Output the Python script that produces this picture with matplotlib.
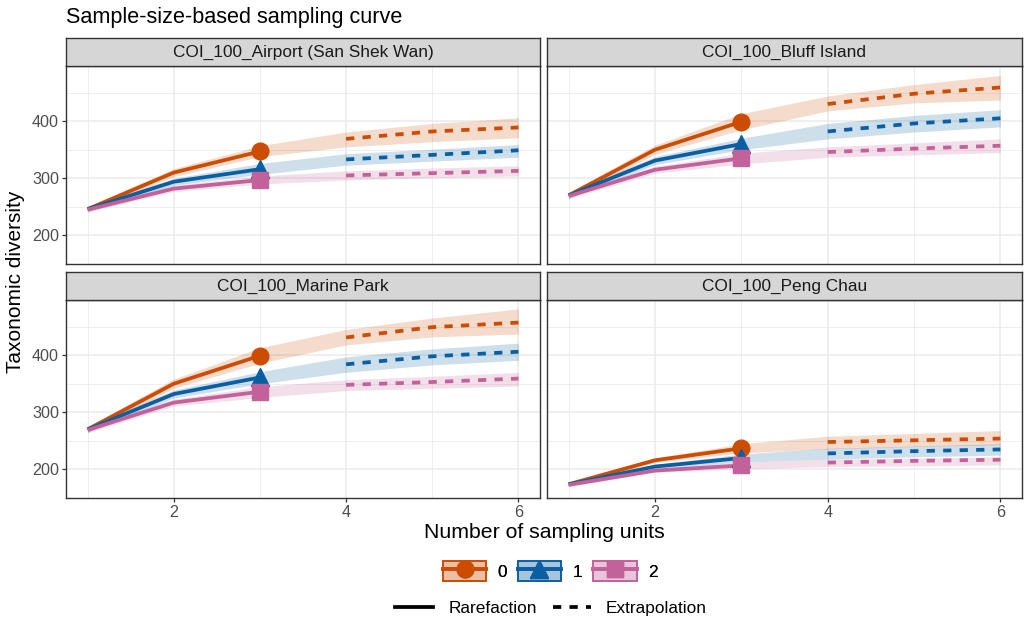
import matplotlib
matplotlib.use("Agg")
import matplotlib.pyplot as plt
from matplotlib.lines import Line2D
from matplotlib.patches import Patch
from matplotlib.legend_handler import HandlerTuple
import numpy as np

plt.rcParams['font.family'] = ['Liberation Sans', 'DejaVu Sans']

# ---------------- data ----------------
sites = ["COI_100_Airport (San Shek Wan)", "COI_100_Bluff Island",
         "COI_100_Marine Park", "COI_100_Peng Chau"]
orders = ["0", "1", "2"]
m = [1, 2, 3, 4, 5, 6]
observed_m = 3

airport_q0 = [246, 310, 347, 369, 382, 389]
airport_q0_lo = [242, 303, 338, 355, 364, 371]
airport_q0_hi = [250, 317, 357, 381, 396, 406]
airport_q1 = [246, 294, 316, 333, 341, 349]
airport_q1_lo = [242, 288, 307, 323, 330, 337]
airport_q1_hi = [250, 300, 326, 343, 351, 359]
airport_q2 = [245, 282, 297, 305, 309, 313]
airport_q2_lo = [241, 277, 290, 297, 301, 304]
airport_q2_hi = [249, 288, 304, 313, 318, 322]

bluff_q0 = [270, 350, 399, 430, 448, 459]
bluff_q0_lo = [265, 342, 385, 418, 432, 437]
bluff_q0_hi = [275, 358, 413, 444, 464, 480]
bluff_q1 = [270, 331, 360, 382, 396, 405]
bluff_q1_lo = [265, 324, 350, 369, 381, 390]
bluff_q1_hi = [275, 338, 370, 396, 410, 420]
bluff_q2 = [269, 315, 335, 346, 352, 357]
bluff_q2_lo = [264, 309, 325, 337, 341, 345]
bluff_q2_hi = [274, 321, 344, 355, 362, 369]

marine_q0 = [270, 350, 399, 431, 449, 457]
marine_q0_lo = [265, 342, 386, 418, 432, 437]
marine_q0_hi = [275, 358, 413, 445, 465, 481]
marine_q1 = [270, 332, 361, 384, 398, 406]
marine_q1_lo = [265, 325, 350, 370, 383, 391]
marine_q1_hi = [275, 339, 371, 397, 411, 421]
marine_q2 = [269, 317, 336, 348, 353, 359]
marine_q2_lo = [264, 311, 326, 338, 342, 346]
marine_q2_hi = [274, 323, 345, 357, 363, 370]

peng_q0 = [174, 216, 237, 248, 251, 254]
peng_q0_lo = [171, 212, 229, 236, 240, 243]
peng_q0_hi = [177, 220, 245, 258, 263, 268]
peng_q1 = [174, 205, 220, 228, 232, 235]
peng_q1_lo = [171, 201, 213, 218, 222, 225]
peng_q1_hi = [177, 209, 227, 237, 241, 245]
peng_q2 = [173, 198, 207, 212, 215, 217]
peng_q2_lo = [170, 195, 201, 205, 206, 208]
peng_q2_hi = [176, 201, 213, 218, 220, 222]

data = {
    sites[0]: [(airport_q0, airport_q0_lo, airport_q0_hi),
               (airport_q1, airport_q1_lo, airport_q1_hi),
               (airport_q2, airport_q2_lo, airport_q2_hi)],
    sites[1]: [(bluff_q0, bluff_q0_lo, bluff_q0_hi),
               (bluff_q1, bluff_q1_lo, bluff_q1_hi),
               (bluff_q2, bluff_q2_lo, bluff_q2_hi)],
    sites[2]: [(marine_q0, marine_q0_lo, marine_q0_hi),
               (marine_q1, marine_q1_lo, marine_q1_hi),
               (marine_q2, marine_q2_lo, marine_q2_hi)],
    sites[3]: [(peng_q0, peng_q0_lo, peng_q0_hi),
               (peng_q1, peng_q1_lo, peng_q1_hi),
               (peng_q2, peng_q2_lo, peng_q2_hi)],
}

colors = ["#CC4C02", "#0A5FA3", "#C2619A"]
markers = ["o", "^", "s"]
msizes = [12, 13, 11]

# ---------------- layout ----------------
W, H = 1029, 627
fig = plt.figure(figsize=(W / 100, H / 100), dpi=100)

def fx(px):
    return px / W

def fy(py):
    return 1 - py / H

cols = [(66, 540), (547, 1022)]
rows = [(66, 264), (300, 498)]
strip_h = 28

allv = []
for s in sites:
    for (v, lo, hi) in data[s]:
        allv += lo + hi
ymin, ymax = min(allv), max(allv)
yr = ymax - ymin
ylim = (ymin - 0.05 * yr, ymax + 0.05 * yr)
xlim = (m[0] - 0.05 * (m[-1] - m[0]), m[-1] + 0.05 * (m[-1] - m[0]))

grid_c = "#EBEBEB"
border_c = "#333333"
lw_main = 2.7
dash = (2.2, 2.2)

for i, s in enumerate(sites):
    r, c = divmod(i, 2)
    x0, x1 = cols[c]
    y0, y1 = rows[r]
    ax = fig.add_axes([fx(x0), fy(y1), fx(x1) - fx(x0), (y1 - y0) / H])
    ax.set_xlim(*xlim)
    ax.set_ylim(*ylim)
    ax.set_xticks([2, 4, 6])
    ax.set_xticks([1, 3, 5], minor=True)
    ax.set_yticks([200, 300, 400])
    ax.set_yticks([150, 250, 350, 450], minor=True)
    ax.grid(True, which='major', color=grid_c, lw=1.1, zorder=0)
    ax.grid(True, which='minor', color=grid_c, lw=0.6, zorder=0)
    ax.set_axisbelow(True)
    for sp in ax.spines.values():
        sp.set_color(border_c)
        sp.set_linewidth(1.0)
    ax.tick_params(which='minor', length=0)
    ax.tick_params(which='major', length=3, width=0.9, color=border_c,
                   labelsize=11.6, labelcolor="#4D4D4D", pad=2)
    if c == 1:
        ax.tick_params(axis='y', length=0, labelleft=False)
    if r == 0:
        ax.tick_params(axis='x', length=0, labelbottom=False)

    xs = np.array(m)
    for k, (v, lo, hi) in enumerate(data[s]):
        ax.fill_between(xs, lo, hi, color=colors[k], alpha=0.2, lw=0, zorder=1)
    for k, (v, lo, hi) in enumerate(data[s]):
        v = np.array(v)
        rare = xs <= observed_m
        extra = xs > observed_m
        ax.plot(xs[rare], v[rare], color=colors[k], lw=lw_main, zorder=3,
                solid_capstyle='butt')
        ax.plot(xs[extra], v[extra], color=colors[k], lw=lw_main, zorder=3,
                dashes=dash)
        obs = xs == observed_m
        ax.plot(xs[obs], v[obs], ls='none', marker=markers[k],
                ms=msizes[k], color=colors[k], zorder=4)

    # strip
    sax = fig.add_axes([fx(x0), fy(y0), fx(x1) - fx(x0), strip_h / H])
    sax.set_facecolor("#D6D6D6")
    sax.set_xticks([])
    sax.set_yticks([])
    for sp in sax.spines.values():
        sp.set_color(border_c)
        sp.set_linewidth(1.0)
    sax.text(0.5, 0.5, s, ha='center', va='center', fontsize=12.4,
             color="#1A1A1A", transform=sax.transAxes)

fig.text(fx(66), fy(18), "Sample-size-based sampling curve", fontsize=15.6,
         ha='left', va='center', color='black')
fig.text(fx(544), fy(533), "Number of sampling units", fontsize=15.3,
         ha='center', va='center')
fig.text(fx(16), fy(282), "Taxonomic diversity", fontsize=15,
         ha='center', va='center', rotation=90)

# legends
h1 = []
for k in range(3):
    p = Patch(facecolor=matplotlib.colors.to_rgba(colors[k], 0.2),
              edgecolor=colors[k], lw=1.2)
    l = Line2D([], [], color=colors[k], lw=lw_main, marker=markers[k],
               ms=msizes[k])
    h1.append((p, l))
leg1 = fig.legend(h1, orders, loc='center', bbox_to_anchor=(fx(550), fy(571)),
                  ncol=3, frameon=False, fontsize=12.4,
                  handler_map={tuple: HandlerTuple(ndivide=1, pad=0)},
                  handlelength=2.55, handleheight=1.34, handletextpad=0.65,
                  columnspacing=0.6)
fig.add_artist(leg1)

h2 = [Line2D([], [], color='black', lw=lw_main),
      Line2D([], [], color='black', lw=lw_main, dashes=dash)]
fig.legend(h2, ["Rarefaction", "Extrapolation"], loc='center',
           bbox_to_anchor=(fx(551), fy(608)), ncol=2, frameon=False,
           fontsize=12.4, handlelength=2.2, handletextpad=0.87,
           columnspacing=0.93)

fig.savefig("out.png", dpi=100)
